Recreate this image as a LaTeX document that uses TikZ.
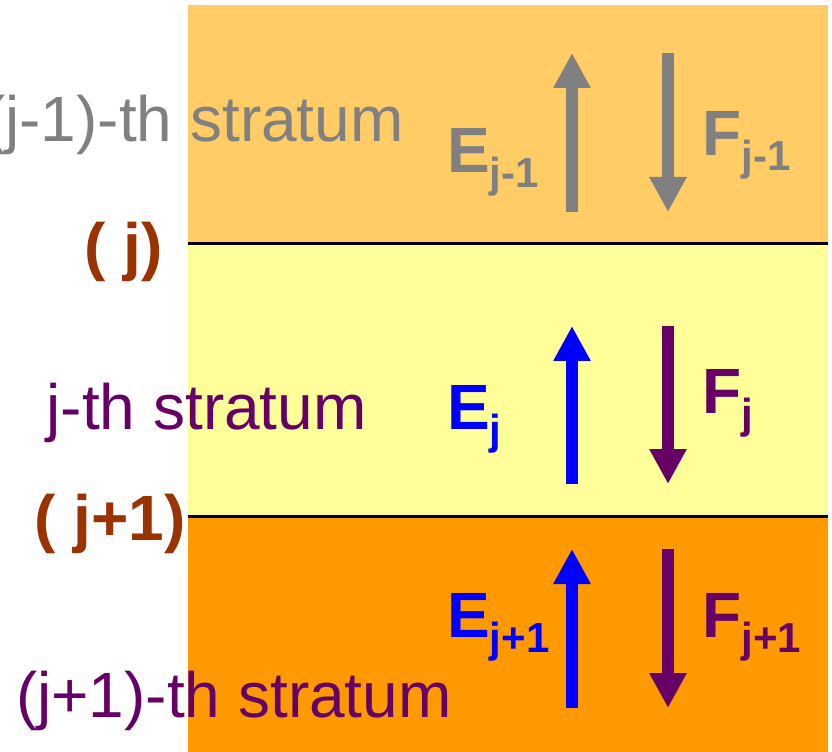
\documentclass[tikz,border=0pt]{standalone}
\usepackage{fontspec}
\setmainfont{Liberation Sans}
\usetikzlibrary{arrows.meta}
\definecolor{strtop}{HTML}{FFCC66}
\definecolor{strmid}{HTML}{FFFF99}
\definecolor{strbot}{HTML}{FF9900}
\definecolor{fgray}{HTML}{808080}
\definecolor{fpurple}{HTML}{660066}
\definecolor{fblue}{HTML}{0000FF}
\definecolor{fbrown}{HTML}{993300}
\tikzset{
  % confine tra due strati
  boundary/.style={line width=2.25pt, black},
  % freccia di flusso
  flux/.style={line width=9pt, -{Triangle[width=26.25pt, length=26.25pt]}},
  % etichetta di uno strato
  stlbl/.style={inner sep=0pt, anchor=base east, font=\fontsize{48}{58}\selectfont},
  % indice del confine
  bdlbl/.style={inner sep=0pt, anchor=base east, font=\fontsize{48}{58}\selectfont\bfseries, fbrown},
  % nome del flusso
  fluxlbl/.style={inner sep=0pt, anchor=base west, font=\fontsize{48}{58}\selectfont\bfseries},
}
\newcommand{\fluxsub}[1]{\raisebox{-11.25pt}{\fontsize{31.5}{38}\selectfont #1}}
% coppia di flussi E (su) e F (giu) in uno strato
\newcommand{\fluxpair}[8]{%
  \coordinate (#1Elo) at (572,#3);
  \coordinate (#1Ehi) at (572,#2);
  \coordinate (#1Fhi) at (668,#2);
  \coordinate (#1Flo) at (668,#3);
  \draw[flux, #4] (#1Elo) -- (#1Ehi);
  \draw[flux, #5] (#1Fhi) -- (#1Flo);
  \node[fluxlbl, #4] (#1E) at (447,#7) {E\fluxsub{#6}};
  \node[fluxlbl, #5] (#1F) at (702,#8) {F\fluxsub{#6}};
}
\begin{document}
\begin{tikzpicture}[x=0.75pt, y=-0.75pt]
  \useasboundingbox (0,0) rectangle (832,752);
  \fill[strtop] (188,5) rectangle (828,244);
  \fill[strmid] (188,244) rectangle (828,516);
  \fill[strbot] (188,516) rectangle (828,752);
  \draw[boundary] (188,244) -- (828,244);
  \draw[boundary] (188,516) -- (828,516);
  \fluxpair{up}{53}{212}{fgray}{fgray}{j-1}{173}{156}
  \fluxpair{mid}{326}{484}{fblue}{fpurple}{j}{429}{413}
  \fluxpair{lo}{549}{708}{fblue}{fpurple}{j+1}{637}{637}
  \node[stlbl, fgray] (upper) at (404,142) {(j-1)-th stratum};
  \node[stlbl, fpurple] (this) at (367,429) {j-th stratum};
  \node[stlbl, fpurple] (lower) at (452,717) {(j+1)-th stratum};
  \node[bdlbl] (bdj) at (163,269) {( j)};
  \node[bdlbl] (bdjj) at (186,540) {( j+1)};
\end{tikzpicture}
\end{document}
